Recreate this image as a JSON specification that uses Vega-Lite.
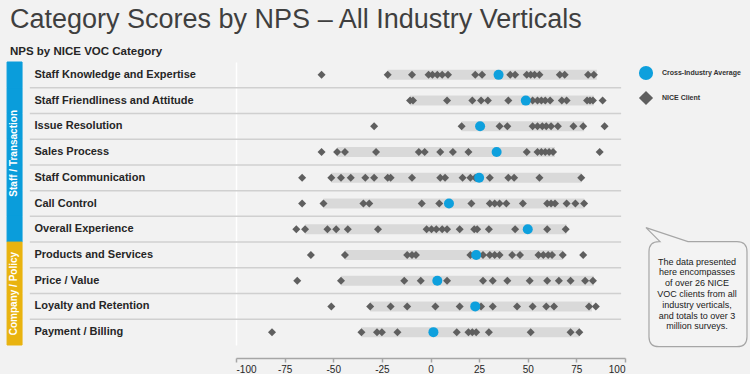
{
  "$schema": "https://vega.github.io/schema/vega-lite/v6.json",
  "width": 389,
  "height": 283,
  "autosize": {"type": "none"},
  "padding": {"left": 236, "top": 62, "right": 125, "bottom": 29},
  "background": "#f2f2f2",
  "title": {
    "text": "Category Scores by NPS – All Industry Verticals",
    "subtitle": "NPS by NICE VOC Category",
    "anchor": "start",
    "frame": "group",
    "dx": -226,
    "offset": 3,
    "font": "Liberation Sans",
    "fontSize": 27,
    "fontWeight": "normal",
    "color": "#3f3f3f",
    "subtitleFont": "Liberation Sans",
    "subtitleFontSize": 11.5,
    "subtitleFontWeight": "bold",
    "subtitleColor": "#262626",
    "subtitlePadding": 12
  },
  "data": {
    "values": [
      {"cat": "Staff Knowledge and Expertise", "group": "Staff / Transaction", "lo": -22, "hi": 85.5, "avg": 35, "client": [-56, -22, -9.5, -1, 1, 3.5, 6, 9, 23, 26.5, 41, 43.5, 49.5, 51.5, 53.5, 56, 66.5, 69, 81, 84]},
      {"cat": "Staff Friendliness and Attitude", "group": "Staff / Transaction", "lo": -10.5, "hi": 84, "avg": 49, "client": [-10.5, -9, 8.5, 21.5, 26, 29.5, 40, 52.5, 55, 57, 59, 61.5, 67.5, 70, 80.5, 82, 83.5, 88.5]},
      {"cat": "Issue Resolution", "group": "Staff / Transaction", "lo": 16, "hi": 79, "avg": 25.5, "client": [-29, 16, 35.5, 39.5, 52.5, 55, 57.5, 59.5, 62, 65.5, 73.5, 78.5, 89.5]},
      {"cat": "Sales Process", "group": "Staff / Transaction", "lo": -48, "hi": 64, "avg": 34, "client": [-56, -48, -44, -28, -6, -3, 5, 11.5, 19.5, 34, 49.5, 55, 57, 59, 61, 63, 87]},
      {"cat": "Staff Communication", "group": "Staff / Transaction", "lo": -51, "hi": 77.5, "avg": 25, "client": [-66, -51, -46, -41, -33.5, -29, -22, -20.5, -9.5, 5, 7.5, 16.5, 20.5, 23, 30.5, 40, 43, 56, 77.5]},
      {"cat": "Call Control", "group": "Staff / Transaction", "lo": -55, "hi": 79, "avg": 9.5, "client": [-66, -55, -34.5, -31.5, -4.5, 4.5, 21, 30.5, 33, 35.5, 39, 47.5, 60, 62, 64, 70, 74.5, 79]},
      {"cat": "Overall Experience", "group": "Staff / Transaction", "lo": -64.5, "hi": 70, "avg": 50, "client": [-69, -64.5, -53, -48.5, -42.5, -27, -2, 0.5, 3, 6, 8.5, 15, 22.5, 24, 30, 43.5, 60, 69.5]},
      {"cat": "Products and Services", "group": "Company / Policy", "lo": -44, "hi": 68, "avg": 23.5, "client": [-61.5, -44, -12, -9.5, -7.5, 20.5, 23.5, 27, 30.5, 33, 35.5, 42, 46, 55.5, 58, 60.5, 62.5, 68, 78.5]},
      {"cat": "Price / Value", "group": "Company / Policy", "lo": -46, "hi": 84, "avg": 3.5, "client": [-68.5, -46, -13.5, -5, 8.5, 27, 32, 39.5, 51, 60, 66, 72, 79.5, 83.5]},
      {"cat": "Loyalty and Retention", "group": "Company / Policy", "lo": -31, "hi": 83, "avg": 23, "client": [-51, -31, -20.5, -12, 2.5, 15, 26, 32, 44.5, 52.5, 59.5, 63.5, 81.5, 85]},
      {"cat": "Payment / Billing", "group": "Company / Policy", "lo": -35.5, "hi": 76.5, "avg": 1.5, "client": [-81.5, -35.5, -27.5, -25, -17, 13.5, 19.5, 21.5, 23.5, 30, 51.5, 72, 76.5]}
    ]
  },
  "layer": [
    {
      "mark": {"type": "bar"},
      "encoding": {
        "y": {"field": "cat", "type": "nominal", "title": null, "scale": {"domain": ["Staff Knowledge and Expertise", "Staff Friendliness and Attitude", "Issue Resolution", "Sales Process", "Staff Communication", "Call Control", "Overall Experience", "Products and Services", "Price / Value", "Loyalty and Retention", "Payment / Billing"], "paddingInner": 0, "paddingOuter": 0}},
        "x": {"datum": -217.7, "type": "quantitative", "scale": {"domain": [-100, 100], "nice": false, "zero": false}},
        "x2": {"datum": -210},
        "color": {"condition": {"test": "datum.group === 'Staff / Transaction'", "value": "#0a9ddb"}, "value": "#e9b30f"},
        "stroke": {"condition": {"test": "datum.group === 'Staff / Transaction'", "value": "#0a9ddb"}, "value": "#e9b30f"}
      }
    },
    {
      "transform": [{"filter": "datum.cat !== 'Staff Knowledge and Expertise'"}],
      "mark": {"type": "rule", "color": "#d0d0d0", "strokeWidth": 1.5},
      "encoding": {
        "y": {"field": "cat", "type": "nominal", "title": null, "bandPosition": 0, "scale": {"domain": ["Staff Knowledge and Expertise", "Staff Friendliness and Attitude", "Issue Resolution", "Sales Process", "Staff Communication", "Call Control", "Overall Experience", "Products and Services", "Price / Value", "Loyalty and Retention", "Payment / Billing"], "paddingInner": 0, "paddingOuter": 0}},
        "x": {"datum": -206, "type": "quantitative", "scale": {"domain": [-100, 100], "nice": false, "zero": false}},
        "x2": {"datum": 98}
      }
    },
    {
      "mark": {"type": "bar", "height": 10, "color": "#d9d9d9"},
      "encoding": {
        "y": {"field": "cat", "type": "nominal", "title": null, "scale": {"domain": ["Staff Knowledge and Expertise", "Staff Friendliness and Attitude", "Issue Resolution", "Sales Process", "Staff Communication", "Call Control", "Overall Experience", "Products and Services", "Price / Value", "Loyalty and Retention", "Payment / Billing"], "paddingInner": 0, "paddingOuter": 0}},
        "x": {"field": "lo", "type": "quantitative", "title": null, "scale": {"domain": [-100, 100], "nice": false, "zero": false}, "axis": {"values": [-100, -75, -50, -25, 0, 25, 50, 75, 100], "labelExpr": "'' + datum.value"}},
        "x2": {"field": "hi"}
      }
    },
    {
      "transform": [{"flatten": ["client"]}],
      "mark": {"type": "point", "filled": true, "size": 64, "opacity": 1},
      "encoding": {
        "y": {"field": "cat", "type": "nominal", "title": null, "scale": {"domain": ["Staff Knowledge and Expertise", "Staff Friendliness and Attitude", "Issue Resolution", "Sales Process", "Staff Communication", "Call Control", "Overall Experience", "Products and Services", "Price / Value", "Loyalty and Retention", "Payment / Billing"], "paddingInner": 0, "paddingOuter": 0}},
        "x": {"field": "client", "type": "quantitative", "title": null, "scale": {"domain": [-100, 100], "nice": false, "zero": false}},
        "color": {"datum": "NICE Client", "type": "nominal", "scale": {"domain": ["Cross-Industry Average", "NICE Client"], "range": ["#0ea0dd", "#5f5f5f"]}, "legend": {"title": null}},
        "shape": {"datum": "NICE Client", "type": "nominal", "scale": {"domain": ["Cross-Industry Average", "NICE Client"], "range": ["circle", "diamond"]}, "legend": {"title": null}}
      }
    },
    {
      "mark": {"type": "point", "filled": true, "size": 100, "opacity": 1},
      "encoding": {
        "y": {"field": "cat", "type": "nominal", "title": null, "scale": {"domain": ["Staff Knowledge and Expertise", "Staff Friendliness and Attitude", "Issue Resolution", "Sales Process", "Staff Communication", "Call Control", "Overall Experience", "Products and Services", "Price / Value", "Loyalty and Retention", "Payment / Billing"], "paddingInner": 0, "paddingOuter": 0}},
        "x": {"field": "avg", "type": "quantitative", "title": null, "scale": {"domain": [-100, 100], "nice": false, "zero": false}},
        "color": {"datum": "Cross-Industry Average", "type": "nominal", "scale": {"domain": ["Cross-Industry Average", "NICE Client"], "range": ["#0ea0dd", "#5f5f5f"]}, "legend": {"title": null}},
        "shape": {"datum": "Cross-Industry Average", "type": "nominal", "scale": {"domain": ["Cross-Industry Average", "NICE Client"], "range": ["circle", "diamond"]}, "legend": {"title": null}}
      }
    },
    {
      "data": {"values": [{}]},
      "mark": {"type": "text", "text": "Staff / Transaction", "angle": 270, "font": "Liberation Sans", "fontSize": 10, "fontWeight": "bold", "color": "#ffffff", "align": "center", "baseline": "middle"},
      "encoding": {
        "x": {"datum": -213.9, "type": "quantitative", "scale": {"domain": [-100, 100], "nice": false, "zero": false}},
        "y": {"datum": "Sales Process", "type": "nominal", "bandPosition": 0.55, "scale": {"domain": ["Staff Knowledge and Expertise", "Staff Friendliness and Attitude", "Issue Resolution", "Sales Process", "Staff Communication", "Call Control", "Overall Experience", "Products and Services", "Price / Value", "Loyalty and Retention", "Payment / Billing"], "paddingInner": 0, "paddingOuter": 0}}
      }
    },
    {
      "data": {"values": [{}]},
      "mark": {"type": "text", "text": "Company / Policy", "angle": 270, "font": "Liberation Sans", "fontSize": 10, "fontWeight": "bold", "color": "#ffffff", "align": "center", "baseline": "middle"},
      "encoding": {
        "x": {"datum": -213.9, "type": "quantitative", "scale": {"domain": [-100, 100], "nice": false, "zero": false}},
        "y": {"datum": "Price / Value", "type": "nominal", "bandPosition": 1, "scale": {"domain": ["Staff Knowledge and Expertise", "Staff Friendliness and Attitude", "Issue Resolution", "Sales Process", "Staff Communication", "Call Control", "Overall Experience", "Products and Services", "Price / Value", "Loyalty and Retention", "Payment / Billing"], "paddingInner": 0, "paddingOuter": 0}}
      }
    },
    {
      "data": {"values": [{}]},
      "mark": {"type": "point", "shape": "M -0.56,-0.591 L -0.773,-0.803 L -0.136,-0.591 L 0.606,-0.591 Q 0.758,-0.591 0.758,-0.439 L 0.758,0.848 Q 0.758,1 0.606,1 L -0.575,1 Q -0.727,1 -0.727,0.848 L -0.727,-0.439 Q -0.727,-0.591 -0.575,-0.591 Z", "size": 17424, "fill": "#f3f3f3", "stroke": "#a6a6a6", "strokeWidth": 1.2, "opacity": 1, "fillOpacity": 1, "strokeOpacity": 1},
      "encoding": {
        "x": {"datum": 137, "type": "quantitative", "scale": {"domain": [-100, 100], "nice": false, "zero": false}},
        "y": {"datum": "Price / Value", "type": "nominal", "scale": {"domain": ["Staff Knowledge and Expertise", "Staff Friendliness and Attitude", "Issue Resolution", "Sales Process", "Staff Communication", "Call Control", "Overall Experience", "Products and Services", "Price / Value", "Loyalty and Retention", "Payment / Billing"], "paddingInner": 0, "paddingOuter": 0}}
      }
    },
    {
      "data": {"values": [{}]},
      "mark": {"type": "text", "text": ["The data presented", "here encompasses", "of over 26 NICE", "VOC clients from all", "industry verticals,", "and totals to over 3", "million surveys."], "lineHeight": 10.8, "font": "Liberation Sans", "fontSize": 9, "color": "#1a1a1a", "align": "center", "baseline": "middle", "dy": -19},
      "encoding": {
        "x": {"datum": 137, "type": "quantitative", "scale": {"domain": [-100, 100], "nice": false, "zero": false}},
        "y": {"datum": "Price / Value", "type": "nominal", "scale": {"domain": ["Staff Knowledge and Expertise", "Staff Friendliness and Attitude", "Issue Resolution", "Sales Process", "Staff Communication", "Call Control", "Overall Experience", "Products and Services", "Price / Value", "Loyalty and Retention", "Payment / Billing"], "paddingInner": 0, "paddingOuter": 0}}
      }
    }
  ],
  "config": {
    "view": {"stroke": null},
    "axisY": {
      "labelAlign": "left",
      "labelBaseline": "middle",
      "labelPadding": 202,
      "ticks": false,
      "tickSize": 0,
      "domain": true,
      "domainColor": "#ffffff",
      "domainWidth": 1.5,
      "grid": false,
      "labelFont": "Liberation Sans",
      "labelFontSize": 11,
      "labelFontWeight": "bold",
      "labelColor": "#262626",
      "labelLimit": 300
    },
    "axisX": {
      "offset": 13,
      "grid": false,
      "domainColor": "#a6a6a6",
      "domainWidth": 1.5,
      "tickColor": "#a6a6a6",
      "tickSize": 4,
      "tickWidth": 1.5,
      "labelFont": "Liberation Sans",
      "labelFontSize": 10,
      "labelColor": "#262626",
      "labelPadding": 2
    },
    "legend": {
      "orient": "none",
      "legendX": 402,
      "legendY": 3,
      "padding": 0,
      "symbolSize": 200,
      "symbolOpacity": 1,
      "rowPadding": 3,
      "labelOffset": 8,
      "labelFont": "Liberation Sans",
      "labelFontSize": 7,
      "labelFontWeight": "bold",
      "labelColor": "#333333"
    }
  }
}
